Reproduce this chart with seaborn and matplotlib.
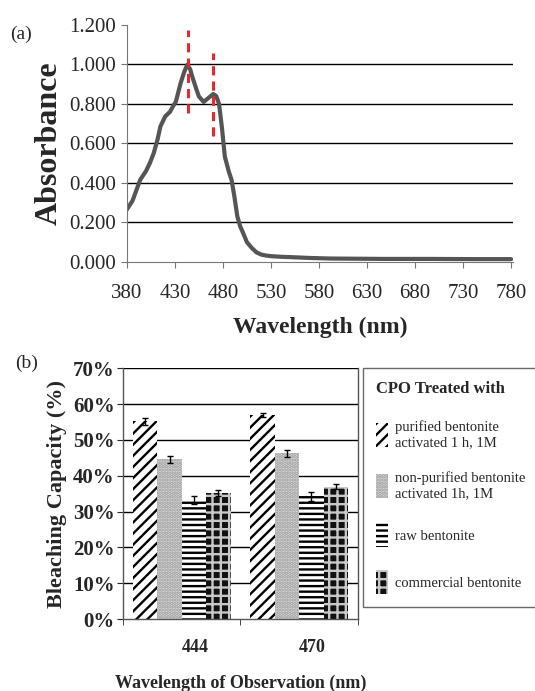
import numpy as np
import pandas as pd
import matplotlib
import matplotlib.pyplot as plt
import matplotlib.transforms as mtransforms
from matplotlib.ticker import FuncFormatter, FormatStrFormatter
import seaborn as sns

# --- panel (a): absorbance spectrum ---
wavelength = [380, 386, 389, 394, 400, 404, 408, 412, 415, 420, 425, 428, 431,
              436, 440, 443, 446, 448, 452, 455, 460, 465, 470, 473, 476, 479,
              482, 486, 489, 492, 495, 498, 501, 505, 510, 515, 520, 525, 530,
              540, 551, 570, 592, 620, 650, 696, 740, 780]
absorbance = [0.265, 0.31, 0.35, 0.416, 0.46, 0.50, 0.55, 0.62, 0.686, 0.737,
              0.76, 0.787, 0.81, 0.905, 0.965, 0.998, 0.975, 0.94, 0.88, 0.838,
              0.81, 0.83, 0.85, 0.84, 0.80, 0.68, 0.534, 0.46, 0.416, 0.33,
              0.231, 0.18, 0.147, 0.10, 0.071, 0.048, 0.037, 0.032, 0.029,
              0.026, 0.024, 0.02, 0.017, 0.016, 0.015, 0.015, 0.014, 0.014]
peak_nm = [444, 470]
peak_lo = [0.754, 0.635]
peak_hi = [1.175, 1.057]

# --- panel (b): bleaching capacity ---
obs_nm = ["444", "470"]
treatments = ["purified bentonite\nactivated 1 h, 1M",
              "non-purified bentonite\nactivated 1h, 1M",
              "raw bentonite",
              "commercial bentonite"]
capacity = {
    "444": [0.552, 0.446, 0.333, 0.351],
    "470": [0.570, 0.463, 0.343, 0.370],
}
capacity_err = {
    "444": [0.009, 0.010, 0.011, 0.008],
    "470": [0.005, 0.010, 0.013, 0.008],
}

sns.set_style("white")
plt.rcParams['font.family'] = ['Liberation Serif', 'DejaVu Serif']
plt.rcParams['hatch.linewidth'] = 1.7

fig = plt.figure(figsize=(5.35, 6.91), dpi=100)

# ---------------- (a) ----------------
ax1 = fig.add_axes([0.237, 0.621, 0.722, 0.343])
sns.lineplot(x=wavelength, y=absorbance, ax=ax1, color='#555555', lw=3)
ax1.vlines(peak_nm, peak_lo, peak_hi, colors='#e8282d', linestyles=(0, (3, 2)), lw=2.2)
ax1.set_xlim(380, 782)
ax1.set_ylim(0, 1.2)
ax1.set_xticks(np.arange(380, 781, 50))
ax1.set_yticks(np.arange(0, 1.21, 0.2))
ax1.yaxis.set_major_formatter(FormatStrFormatter('%.3f'))
for yv in np.arange(0.2, 1.01, 0.2):
    ax1.axhline(yv, color='black', lw=1, zorder=0)
for s in ['top', 'right']:
    ax1.spines[s].set_visible(False)
for s in ['left', 'bottom']:
    ax1.spines[s].set_color('#777777')
ax1.tick_params(axis='both', direction='out', length=4, color='#777777',
                labelsize=15, bottom=True, left=True)
ax1.tick_params(axis='x', pad=12)
ax1.set_xlabel('Wavelength (nm)', fontsize=17, fontweight='bold', labelpad=10)
ax1.set_ylabel('Absorbance', fontsize=23, fontweight='bold', labelpad=4)
fig.text(0.04, 0.95, '(a)', fontsize=14, ha='center', va='center')

# ---------------- (b) ----------------
rows = []
for nm in obs_nm:
    for t, v in zip(treatments, capacity[nm]):
        rows.append({"nm": nm, "treatment": t, "capacity": v})
df = pd.DataFrame(rows)

ax2 = fig.add_axes([0.230, 0.104, 0.439, 0.363])
sns.barplot(data=df, x="nm", y="capacity", hue="treatment", hue_order=treatments,
            order=obs_nm, errorbar=None, width=0.83, ax=ax2, legend=False)

styles = [
    dict(facecolor='white', edgecolor='black', hatch='///'),
    dict(facecolor='#d8d8d8', edgecolor='#9a9a9a', hatch='.....'),
    dict(facecolor='white', edgecolor='black', hatch='---'),
    dict(facecolor='#111111', edgecolor='#c8c8c8', hatch='++'),
]
bars = ax2.patches
n_cat = len(obs_nm)
for i, bar in enumerate(bars):
    st = styles[i // n_cat]
    bar.set_facecolor(st['facecolor'])
    bar.set_edgecolor(st['edgecolor'])
    bar.set_hatch(st['hatch'])
    bar.set_linewidth(0)

# error bars on the bar centres
for i, bar in enumerate(bars):
    t_idx, c_idx = i // n_cat, i % n_cat
    nm = obs_nm[c_idx]
    xc = bar.get_x() + bar.get_width() / 2
    ax2.errorbar(xc, capacity[nm][t_idx], yerr=capacity_err[nm][t_idx],
                 fmt='none', ecolor='black', elinewidth=1, capsize=2.5, capthick=1)

ax2.set_ylim(0, 0.7)
ax2.set_xlim(-0.5, 1.5)
ax2.set_yticks(np.arange(0, 0.71, 0.1))
ax2.yaxis.set_major_formatter(FuncFormatter(lambda v, p: f"{v*100:.0f}%"))
for yv in np.arange(0.1, 0.71, 0.1):
    ax2.axhline(yv, color='black', lw=1, zorder=0)
ax2.set_axisbelow(True)
for s in ['top', 'right', 'left', 'bottom']:
    ax2.spines[s].set_color('#555555')
    ax2.spines[s].set_linewidth(1)
ax2.spines['top'].set_visible(False)
ax2.tick_params(axis='y', direction='out', length=4, left=True, labelsize=15, pad=2)
for lab in ax2.get_yticklabels():
    lab.set_fontweight('bold')
ax2.set_xticks([0, 1])
ax2.set_xticklabels(obs_nm, fontsize=13, fontweight='bold')
ax2.tick_params(axis='x', which='major', length=0, pad=14)
ax2.set_xticks([-0.5, 0.5, 1.5], minor=True)
ax2.tick_params(axis='x', which='minor', direction='out', length=4, bottom=True)
shift = mtransforms.ScaledTranslation(13 / 100, 0, fig.dpi_scale_trans)
for lab in ax2.get_xticklabels():
    lab.set_transform(lab.get_transform() + shift)
ax2.set_xlabel('Wavelength of Observation (nm)', fontsize=13, fontweight='bold', labelpad=14)
ax2.set_ylabel('Bleaching Capacity (%)', fontsize=16, fontweight='bold', labelpad=4)
fig.text(0.05, 0.474, '(b)', fontsize=14, ha='center', va='center')

# legend built from the bar styles
handles = [matplotlib.patches.Patch(linewidth=0, **st) for st in styles]
leg = fig.legend(handles, treatments, loc='upper left', bbox_to_anchor=(0.679, 0.467),
                 title='CPO Treated with', frameon=True, fontsize=10.5,
                 handlelength=0.8, handleheight=2.2, handletextpad=0.5,
                 labelspacing=1.55, borderpad=0.9, borderaxespad=0, fancybox=False,
                 title_fontproperties={'weight': 'bold', 'size': 12})
leg._legend_box.align = 'left'
leg.get_frame().set_edgecolor('#444444')
leg.get_frame().set_linewidth(1)

fig.savefig('out.png', dpi=100)
